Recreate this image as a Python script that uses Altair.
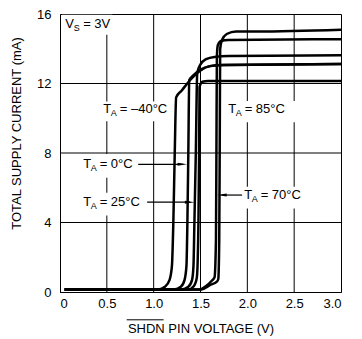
import altair as alt
import pandas as pd

FONT = "Liberation Sans"

# ---- curve data (SHDN pin voltage V, total supply current mA) ----
series_names = ["-40", "0", "25", "25b", "70", "85"]
curve_x = {
    "-40": [0.05, 1.05, 1.12, 1.17, 1.195, 1.21, 1.225, 1.24, 1.30, 1.39, 1.50, 1.60, 1.75, 3.0],
    "0":   [0.05, 1.22, 1.29, 1.33, 1.35, 1.36, 1.37, 1.38, 1.42, 1.50, 1.60, 1.75, 3.0],
    "25":  [0.05, 1.30, 1.37, 1.41, 1.425, 1.435, 1.45, 1.465, 1.50, 1.56, 1.65, 1.80, 3.0],
    "25b": [0.05, 1.37, 1.43, 1.46, 1.47, 1.478, 1.485, 1.49, 1.52, 1.58, 3.0],
    "70":  [0.05, 1.49, 1.56, 1.62, 1.65, 1.665, 1.67, 1.675, 1.685, 1.72, 1.80, 3.0],
    "85":  [0.05, 1.51, 1.60, 1.675, 1.69, 1.70, 1.705, 1.71, 1.73, 1.78, 1.88, 2.1, 3.0],
}
curve_y = {
    "-40": [0.15, 0.15, 0.3, 0.7, 1.5, 4.0, 8.0, 11.2, 11.6, 12.2, 12.75, 13.0, 13.07, 13.12],
    "0":   [0.15, 0.15, 0.3, 0.7, 1.5, 4.0, 8.0, 12.2, 12.45, 12.8, 13.0, 13.07, 13.12],
    "25":  [0.15, 0.15, 0.3, 0.7, 1.5, 4.0, 8.0, 12.6, 13.1, 13.4, 13.53, 13.58, 13.62],
    "25b": [0.15, 0.15, 0.35, 0.8, 1.8, 4.0, 8.0, 11.8, 12.1, 12.15, 12.15],
    "70":  [0.15, 0.15, 0.35, 0.65, 0.85, 3.0, 8.0, 13.6, 14.2, 14.45, 14.5, 14.55],
    "85":  [0.15, 0.15, 0.4, 0.6, 0.75, 3.0, 8.0, 14.0, 14.5, 14.85, 15.0, 15.0, 15.1],
}

x_ticks = [0, 0.5, 1.0, 1.5, 2.0, 2.5, 3.0]
y_ticks = [0, 4, 8, 12, 16]
x_grid = [0.5, 1.0, 1.5, 2.0, 2.5]
y_grid = [4, 8, 12]

# ---- annotation labels ----
lab_x = [0.055, 0.462, 1.795, 0.247, 0.247, 1.966]
lab_y = [15.43, 10.54, 10.54, 7.37, 5.17, 5.6]
lab_main = ["V", "T", "T", "T", "T", "T"]
lab_sub = ["S", "A", "A", "A", "A", "A"]
lab_rest = ["= 3V", "= \u201340\u00b0C", "= 85\u00b0C", "= 0\u00b0C", "= 25\u00b0C", "= 70\u00b0C"]
lab_dsub = [8.5, 7.5, 7.5, 7.5, 7.5, 7.5]
lab_drest = [18.0, 16.5, 16.5, 16.5, 16.5, 16.5]

# white label backgrounds (break the grid)
box_x0 = [0.02, 0.43, 1.774, 0.215, 0.215, 1.955]
box_x1 = [0.56, 1.197, 2.53, 0.813, 0.897, 2.60]
box_y0 = [14.8, 9.83, 9.77, 6.57, 4.40, 4.80]
box_y1 = [15.95, 10.97, 11.00, 7.94, 5.71, 6.06]

# arrows
arr_x0 = [0.835, 0.93, 1.944]
arr_x1 = [1.31, 1.39, 1.725]
arr_y = [7.35, 5.17, 5.58]
arr_tip = [1.306, 1.384, 1.729]
arr_dir = ["right", "right", "left"]

# overline on SHDN
ovl_x0, ovl_x1, ovl_y = [0.712], [1.106], [-1.6]

rows = []
for s in series_names:
    for xv, yv in zip(curve_x[s], curve_y[s]):
        rows.append({"series": s, "x": xv, "y": yv})
curves_df = pd.DataFrame(rows)

xscale = alt.Scale(domain=[0, 3], nice=False)
yscale = alt.Scale(domain=[0, 16], nice=False)
xaxis = alt.Axis(values=x_ticks, labelExpr="datum.value == 0 ? '0' : format(datum.value, '.1f')",
                 title="SHDN PIN VOLTAGE  (V)", grid=False, ticks=False, labelPadding=5,
                 titlePadding=12, labelFont=FONT, labelFontSize=13, labelColor="black",
                 titleFont=FONT, titleFontSize=13, titleFontWeight="normal", titleColor="black",
                 domainColor="black", domainWidth=1)
yaxis = alt.Axis(values=y_ticks, title="TOTAL SUPPLY CURRENT (mA)", grid=False, ticks=False,
                 labelPadding=9, titlePadding=13, titleY=119, labelFont=FONT, labelFontSize=13,
                 labelColor="black", titleFont=FONT, titleFontSize=13, titleFontWeight="normal",
                 titleColor="black", domainColor="black", domainWidth=1)

X = lambda f: alt.X(f, type="quantitative", scale=xscale, axis=xaxis)
Y = lambda f: alt.Y(f, type="quantitative", scale=yscale, axis=yaxis)

vgrid = alt.Chart(pd.DataFrame({"g": x_grid})).mark_rule(color="black", strokeWidth=1).encode(x=X("g"))
hgrid = alt.Chart(pd.DataFrame({"g": y_grid})).mark_rule(color="black", strokeWidth=1).encode(y=Y("g"))

boxes = alt.Chart(pd.DataFrame({"x0": box_x0, "x1": box_x1, "y0": box_y0, "y1": box_y1})).mark_rect(
    fill="white").encode(x=X("x0"), x2="x1", y=Y("y0"), y2="y1")

lines = alt.Chart(curves_df).mark_line(color="black", strokeWidth=2.5, interpolate="monotone",
                                       strokeJoin="round").encode(
    x=X("x"), y=Y("y"), detail="series:N")

arr_df = pd.DataFrame({"x0": arr_x0, "x1": arr_x1, "y": arr_y, "tip": arr_tip, "dir": arr_dir})
arr_lines = alt.Chart(arr_df).mark_rule(color="black", strokeWidth=1.2).encode(
    x=X("x0"), x2="x1", y=Y("y"))
head_r = alt.Chart(arr_df).transform_filter("datum.dir == 'right'").mark_point(
    shape="M -1 -0.32 L 1 0 L -1 0.32 Z", filled=True, color="black", size=90, opacity=1).encode(
    x=X("tip"), y=Y("y"))
head_l = alt.Chart(arr_df).transform_filter("datum.dir == 'left'").mark_point(
    shape="M 1 -0.32 L -1 0 L 1 0.32 Z", filled=True, color="black", size=90, opacity=1).encode(
    x=X("tip"), y=Y("y"))

lab_df = pd.DataFrame({"x": lab_x, "y": lab_y, "main": lab_main, "sub": lab_sub, "rest": lab_rest,
                       "dsub": lab_dsub, "drest": lab_drest})
t_main = alt.Chart(lab_df).mark_text(align="left", baseline="middle", font=FONT, fontSize=13,
                                     color="black").encode(x=X("x"), y=Y("y"), text="main:N")
t_sub = alt.Chart(lab_df).transform_calculate(xs="datum.x + datum.dsub / 93.7").mark_text(
    align="left", baseline="middle", font=FONT, fontSize=9, color="black", dy=4).encode(
    x=X("xs:Q"), y=Y("y"), text="sub:N")
t_rest = alt.Chart(lab_df).transform_calculate(xr="datum.x + datum.drest / 93.7").mark_text(
    align="left", baseline="middle", font=FONT, fontSize=13, color="black").encode(
    x=X("xr:Q"), y=Y("y"), text="rest:N")

ovl = alt.Chart(pd.DataFrame({"x0": ovl_x0, "x1": ovl_x1, "y": ovl_y})).mark_rule(
    color="black", strokeWidth=1).encode(x=X("x0"), x2="x1", y=Y("y"))

chart = alt.layer(vgrid, hgrid, boxes, lines, arr_lines, head_r, head_l, t_main, t_sub, t_rest, ovl).properties(
    width=281, height=278,
    background="white",
    autosize=alt.AutoSizeParams(type="none"),
    padding={"left": 52, "top": 6, "right": 13, "bottom": 46},
).configure_view(stroke="black", strokeWidth=1)

chart.save("out.html", embed_options={"renderer": "svg", "actions": False})
